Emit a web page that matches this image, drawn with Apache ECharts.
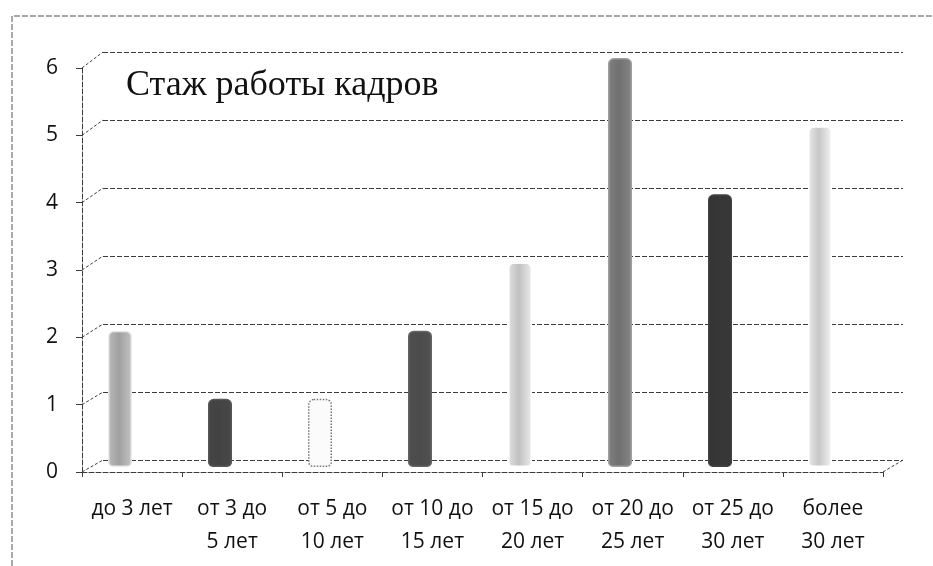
<!DOCTYPE html>
<html>
<head>
<meta charset="utf-8">
<script src="https://cdn.jsdelivr.net/npm/echarts@6/dist/echarts.min.js"></script>
<style>
  html, body { margin: 0; padding: 0; background: #fff; }
  #chart { width: 933px; height: 566px; }
</style>
</head>
<body>
<div id="chart"></div>
<script>
// стаж работы кадров
const categories = ["до 3 лет", "от 3 до\n5 лет", "от 5 до\n10 лет", "от 10 до\n15 лет",
  "от 15 до\n20 лет", "от 20 до\n25 лет", "от 25 до\n30 лет", "более\n30 лет"];
const values = [2, 1, 1, 2, 3, 6, 4, 5];
const yTicks = [0, 1, 2, 3, 4, 5, 6];

// серые тона столбцов (как на скане)
const barColors = ["#9c9c9c", "#3a3a3a", "#f7f7f7", "#424242", "#bdbdbd", "#6a6a6a", "#2c2c2c", "#c4c4c4"];

const lineCol = "#3c3c3c";
const dash = [5, 2];

// три сетки: передняя (подписи), задняя стенка (линии сетки), середина (столбцы)
const front = { left: 82, right: 50, top: 68, bottom: 94 };
const back = { left: 103, right: 30, top: 52, bottom: 106 };
const mid = { left: 70, right: 63, top: 58, bottom: 99 };

function cyl(c) {
  return new echarts.graphic.LinearGradient(0, 0, 1, 0, [
    { offset: 0, color: echarts.color.lift(c, -0.2) },
    { offset: 0.45, color: echarts.color.lift(c, 0.05) },
    { offset: 1, color: echarts.color.lift(c, -0.25) }
  ]);
}

const chart = echarts.init(document.getElementById("chart"));

const option = {
  animation: false,
  grid: [
    Object.assign({ containLabel: false }, front),
    Object.assign({ containLabel: false }, back),
    Object.assign({ containLabel: false }, mid)
  ],
  title: {
    text: "Стаж работы кадров",
    left: 121,
    top: 63,
    textStyle: { fontFamily: "Liberation Serif", fontSize: 36, fontWeight: "normal", color: "#111" }
  },
  xAxis: [
    {
      gridIndex: 0,
      type: "category",
      data: categories,
      axisLine: { show: true, lineStyle: { color: lineCol, type: dash } },
      axisTick: { show: true, length: 5, lineStyle: { color: lineCol } },
      axisLabel: {
        interval: 0,
        margin: 21,
        fontFamily: "Open Sans",
        fontSize: 21,
        lineHeight: 33,
        color: "#111"
      },
      splitLine: { show: false }
    },
    { gridIndex: 1, type: "category", data: categories, show: false },
    { gridIndex: 2, type: "category", data: categories, show: false }
  ],
  yAxis: [
    {
      gridIndex: 0,
      type: "value",
      min: 0,
      max: 6,
      interval: 1,
      axisLine: { show: true, lineStyle: { color: lineCol, type: dash } },
      axisTick: { show: true, length: 6, lineStyle: { color: lineCol } },
      axisLabel: { margin: 24, fontFamily: "Open Sans", fontSize: 21, color: "#111" },
      splitLine: { show: false }
    },
    {
      gridIndex: 1,
      type: "value",
      min: 0,
      max: 6,
      interval: 1,
      axisLine: { show: false },
      axisTick: { show: false },
      axisLabel: { show: false },
      splitLine: { show: true, lineStyle: { color: lineCol, type: dash, width: 1 } }
    },
    { gridIndex: 2, type: "value", min: 0, max: 6, interval: 1, show: false, splitLine: { show: false } }
  ],
  series: [
    {
      type: "bar",
      xAxisIndex: 2,
      yAxisIndex: 2,
      barWidth: 24,
      data: values.map((v, i) => ({
        value: v,
        itemStyle: {
          color: i === 2 ? "#fbfbfb" : cyl(barColors[i]),
          borderColor: i === 2 ? "#777" : echarts.color.lift(barColors[i], -0.5),
          borderWidth: 1.5,
          borderType: i === 2 ? "dotted" : "solid",
          borderRadius: [5, 5, 4, 4]
        }
      })),
      z: 3
    }
  ]
};
chart.setOption(option);

// диагонали «пола» и стенки: от делений передней оси к линиям сетки задней стенки
const diag = yTicks.map(v => {
  const yf = chart.convertToPixel({ yAxisIndex: 0 }, v);
  const yb = chart.convertToPixel({ yAxisIndex: 1 }, v);
  return {
    type: "line",
    shape: { x1: front.left, y1: yf, x2: back.left, y2: yb },
    style: { stroke: lineCol, lineWidth: 1, lineDash: [3, 2] }
  };
});
const y0f = chart.convertToPixel({ yAxisIndex: 0 }, 0);
const y0b = chart.convertToPixel({ yAxisIndex: 1 }, 0);
diag.push({
  type: "line",
  shape: { x1: 933 - front.right, y1: y0f, x2: 933 - back.right, y2: y0b },
  style: { stroke: lineCol, lineWidth: 1, lineDash: [3, 2] }
});
// рамка области диаграммы
diag.push({
  type: "polyline",
  shape: { points: [[12, 566], [12, 16], [933, 16]] },
  style: { stroke: "#555", lineWidth: 1, lineDash: [6, 2], fill: null }
});
chart.setOption({ graphic: diag });
</script>
</body>
</html>
